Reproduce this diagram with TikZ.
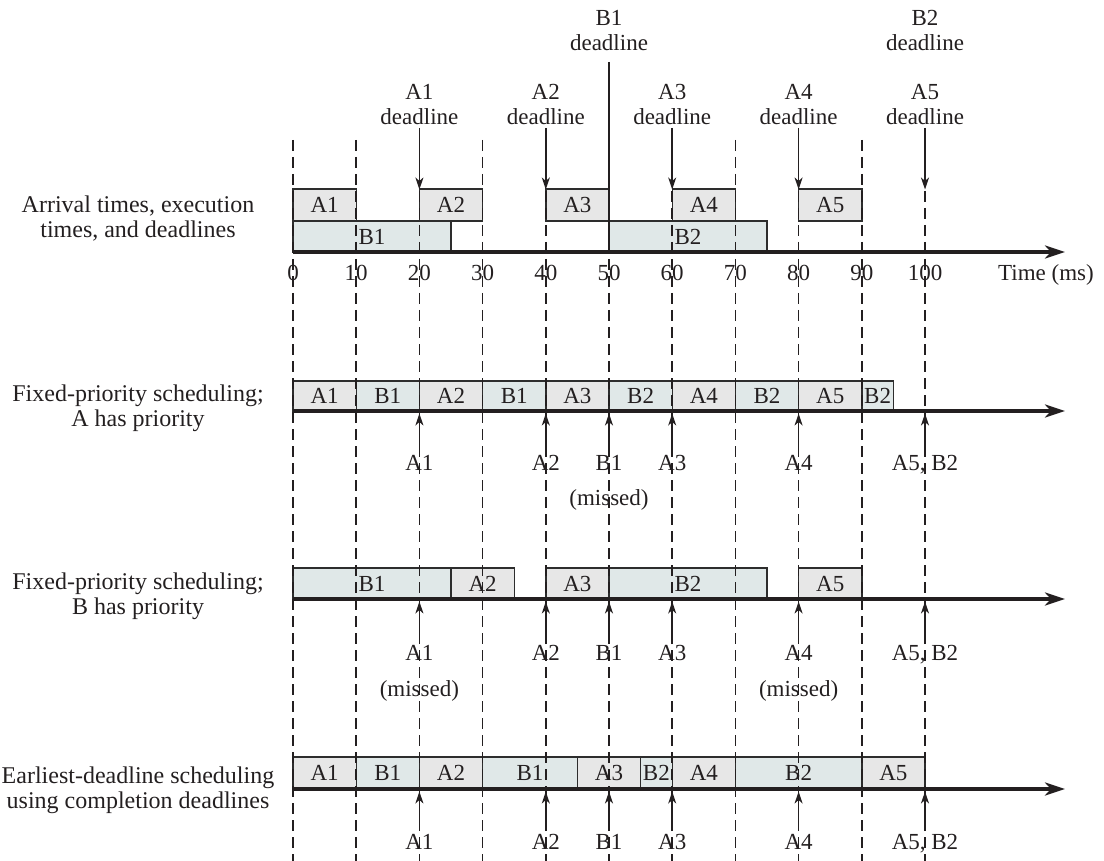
\documentclass[tikz,border=0pt]{standalone}
\usepackage{fontspec}
\setmainfont{Liberation Serif}
\usetikzlibrary{arrows.meta}
\definecolor{colA}{RGB}{231,231,231}
\definecolor{colB}{RGB}{224,232,232}
\definecolor{ink}{RGB}{35,31,32}
\definecolor{edge}{RGB}{45,45,45}
\newcommand{\schedbox}[7]{%
  \path[#7] (#2,#4) rectangle (#3,#5);
  \node[boxtext] (#1) at ({(#2+#3)/2},{(#4+#5)/2+7.8}) {#6};}
\begin{document}
\begin{tikzpicture}[x=1pt,y=-1pt,
  boxtext/.style={font=\fontsize{23}{25}\selectfont, text=ink, anchor=base, inner sep=0pt},
  lbl/.style={font=\fontsize{23}{25}\selectfont, text=ink, inner sep=0pt, align=center},
  side/.style={font=\fontsize{24}{25}\selectfont, text=ink, inner sep=0pt, align=center},
  aBox/.style={fill=colA, draw=edge, line width=1.4pt},
  bBox/.style={fill=colB, draw=edge, line width=1.4pt},
  gridline/.style={draw=ink, line width=1.5pt, dash pattern=on 11pt off 6pt},
  plainline/.style={draw=ink, line width=1.6pt},
  dl/.style={draw=ink, line width=1.6pt, -{Stealth[length=12pt,width=8pt,inset=3.5pt]}},
  axisline/.style={draw=ink, line width=3.5pt, -{Stealth[length=20pt,width=13pt,inset=6pt]}}]
\useasboundingbox (0,0) rectangle (1104,861);

% left labels
\node[side] (lab1) at (138,219) {Arrival times, execution\\times, and deadlines};
\node[side] (lab2) at (138,408) {Fixed-priority scheduling;\\A has priority};
\node[side] (lab3) at (138,596.5) {Fixed-priority scheduling;\\B has priority};
\node[side] (lab4) at (138,790) {Earliest-deadline scheduling\\using completion deadlines};

\begin{scope}[xshift=293pt, x=6.32pt]
% row 1
\schedbox{r1a1}{0}{10}{189}{221}{A1}{aBox}
\schedbox{r1a2}{20}{30}{189}{221}{A2}{aBox}
\schedbox{r1a3}{40}{50}{189}{221}{A3}{aBox}
\schedbox{r1a4}{60}{70}{189}{221}{A4}{aBox}
\schedbox{r1a5}{80}{90}{189}{221}{A5}{aBox}
\schedbox{r1b1}{0}{25}{221}{252}{B1}{bBox}
\schedbox{r1b2}{50}{75}{221}{252}{B2}{bBox}
% row 2
\schedbox{r2a}{0}{10}{381}{411}{A1}{aBox}
\schedbox{r2b}{10}{20}{381}{411}{B1}{bBox}
\schedbox{r2c}{20}{30}{381}{411}{A2}{aBox}
\schedbox{r2d}{30}{40}{381}{411}{B1}{bBox}
\schedbox{r2e}{40}{50}{381}{411}{A3}{aBox}
\schedbox{r2f}{50}{60}{381}{411}{B2}{bBox}
\schedbox{r2g}{60}{70}{381}{411}{A4}{aBox}
\schedbox{r2h}{70}{80}{381}{411}{B2}{bBox}
\schedbox{r2i}{80}{90}{381}{411}{A5}{aBox}
\schedbox{r2j}{90}{95}{381}{411}{B2}{bBox}
% row 3
\schedbox{r3a}{0}{25}{568}{599}{B1}{bBox}
\schedbox{r3b}{25}{35}{568}{599}{A2}{aBox}
\schedbox{r3c}{40}{50}{568}{599}{A3}{aBox}
\schedbox{r3d}{50}{75}{568}{599}{B2}{bBox}
\schedbox{r3e}{80}{90}{568}{599}{A5}{aBox}
% row 4
\schedbox{r4a}{0}{10}{757}{789}{A1}{aBox}
\schedbox{r4b}{10}{20}{757}{789}{B1}{bBox}
\schedbox{r4c}{20}{30}{757}{789}{A2}{aBox}
\schedbox{r4d}{30}{45}{757}{789}{B1}{bBox}
\schedbox{r4e}{45}{55}{757}{789}{A3}{aBox}
\schedbox{r4f}{55}{60}{757}{789}{B2}{bBox}
\schedbox{r4g}{60}{70}{757}{789}{A4}{aBox}
\schedbox{r4h}{70}{90}{757}{789}{B2}{bBox}
\schedbox{r4i}{90}{100}{757}{789}{A5}{aBox}

% axes
\foreach \y/\n in {252/1,411/2,599/3,789/4}{
  \coordinate (ax\n s) at (0,\y);
  \coordinate (ax\n e) at (122.15,\y);
  \draw[axisline] (ax\n s) -- (ax\n e);
}

% tick labels
\foreach \t in {0,10,...,100}
  \node[boxtext] (tick\t) at (\t,281) {\t};
\node[boxtext, anchor=base west] (timelbl) at (111.55,281) {Time (ms)};

% top deadline labels
\node[lbl] (dB1) at (50,31) {B1\\deadline};
\node[lbl] (dB2) at (100,31) {B2\\deadline};
\foreach \t/\n in {20/1,40/2,60/3,80/4,100/5}
  \node[lbl] (dA\n) at (\t,104.4) {A\n\\deadline};

% completion labels
\foreach \y/\r in {470/2,660/3,849/4}{
  \node[boxtext] (c\r a1) at (20,\y) {A1};
  \node[boxtext] (c\r a2) at (40,\y) {A2};
  \node[boxtext] (c\r b1) at (50,\y) {B1};
  \node[boxtext] (c\r a3) at (60,\y) {A3};
  \node[boxtext] (c\r a4) at (80,\y) {A4};
  \node[boxtext] (c\r a5) at (100,\y) {A5, B2};
}
\node[boxtext] (m2b1) at (50,505) {(missed)};
\node[boxtext] (m3a1) at (20,696) {(missed)};
\node[boxtext] (m3a4) at (80,696) {(missed)};

% dashed time lines
\foreach \t in {0,10,...,100}{
  \coordinate (g\t t) at (\t,140);
  \coordinate (g\t b) at (\t,861);
  \draw[gridline] (g\t t) -- (g\t b);
}

% deadline arrows at top
\foreach \t in {20,40,60,80,100}{
  \coordinate (top\t s) at (\t,128);
  \coordinate (top\t e) at (\t,189.5);
  \draw[dl] (top\t s) -- (top\t e);
}
\coordinate (b1s) at (50,62);
\coordinate (b1e) at (50,252);
\draw[plainline] (b1s) -- (b1e);

% completion arrows below axes
\foreach \y/\r/\h in {411/2/44,599/3/45,789/4/42}{
  \foreach \t in {20,40,50,60,80,100}{
    \coordinate (u\r\t s) at (\t,\y+\h);
    \coordinate (u\r\t e) at (\t,\y+2.5);
    \draw[dl] (u\r\t s) -- (u\r\t e);
  }
}
\end{scope}
\end{tikzpicture}
\end{document}
